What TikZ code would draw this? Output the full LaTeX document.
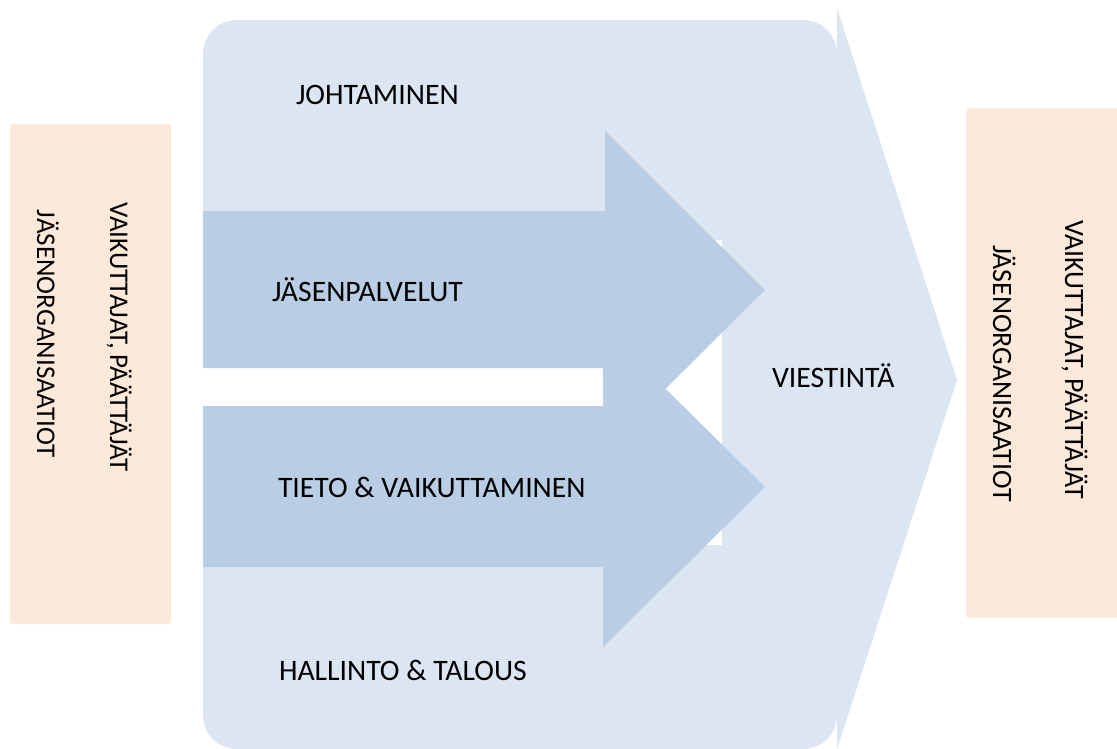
\documentclass[tikz,border=0pt]{standalone}
\usepackage{fontspec}
\setmainfont{Carlito}

\definecolor{paleblue}{RGB}{220,229,242}
\definecolor{arrowblue}{RGB}{185,205,228}
\definecolor{peach}{RGB}{253,233,218}

\begin{document}
\begin{tikzpicture}[x=1pt, y=-1pt,
  every node/.style={font=\fontsize{29.7}{36}\selectfont, inner sep=0pt, outer sep=0pt},
  label text/.style={anchor=base west},
  side text/.style={anchor=base west, rotate=-90}]
\useasboundingbox (0,0) rectangle (1117,749);

% side boxes
\fill[peach, rounded corners=3] (10,124) rectangle (171,624);
\fill[peach, rounded corners=3] (966,108) rectangle (1121,618);

% big background shape
\fill[paleblue, rounded corners=34] (203,20) rectangle (837,749);
\fill[paleblue] (837,8) -- (957,380) -- (837,749) -- cycle;

% white gaps
\fill[white] (603,240) rectangle (722,545);
\fill[white] (203,368) rectangle (603,406);

% arrows
\fill[arrowblue] (203,211) -- (605,211) -- (605,131) -- (765,290) -- (605,449)
  -- (605,368) -- (203,368) -- cycle;
\fill[arrowblue] (203,406) -- (603,406) -- (603,327) -- (765,487) -- (603,647)
  -- (603,567) -- (203,567) -- cycle;

% texts
\node[label text] (johto) at (296,105) {JOHTAMINEN};
\node[label text] (jasenpalv) at (272,301) {JÄSENPALVELUT};
\node[label text] (tieto) at (278,497) {TIETO \& VAIKUTTAMINEN};
\node[label text] (hallinto) at (279,680) {HALLINTO \& TALOUS};
\node[label text] (viestinta) at (772,387) {VIESTINTÄ};

\node[side text, font=\fontsize{27}{32}\selectfont] (vaikL) at (110,202) {VAIKUTTAJAT, PÄÄTTÄJÄT};
\node[side text, font=\fontsize{27}{32}\selectfont] (jasenL) at (37,210) {JÄSENORGANISAATIOT};
\node[side text, font=\fontsize{28}{33}\selectfont] (vaikR) at (1065,220) {VAIKUTTAJAT, PÄÄTTÄJÄT};
\node[side text, font=\fontsize{28}{33}\selectfont] (jasenR) at (993,245) {JÄSENORGANISAATIOT};
\end{tikzpicture}
\end{document}
